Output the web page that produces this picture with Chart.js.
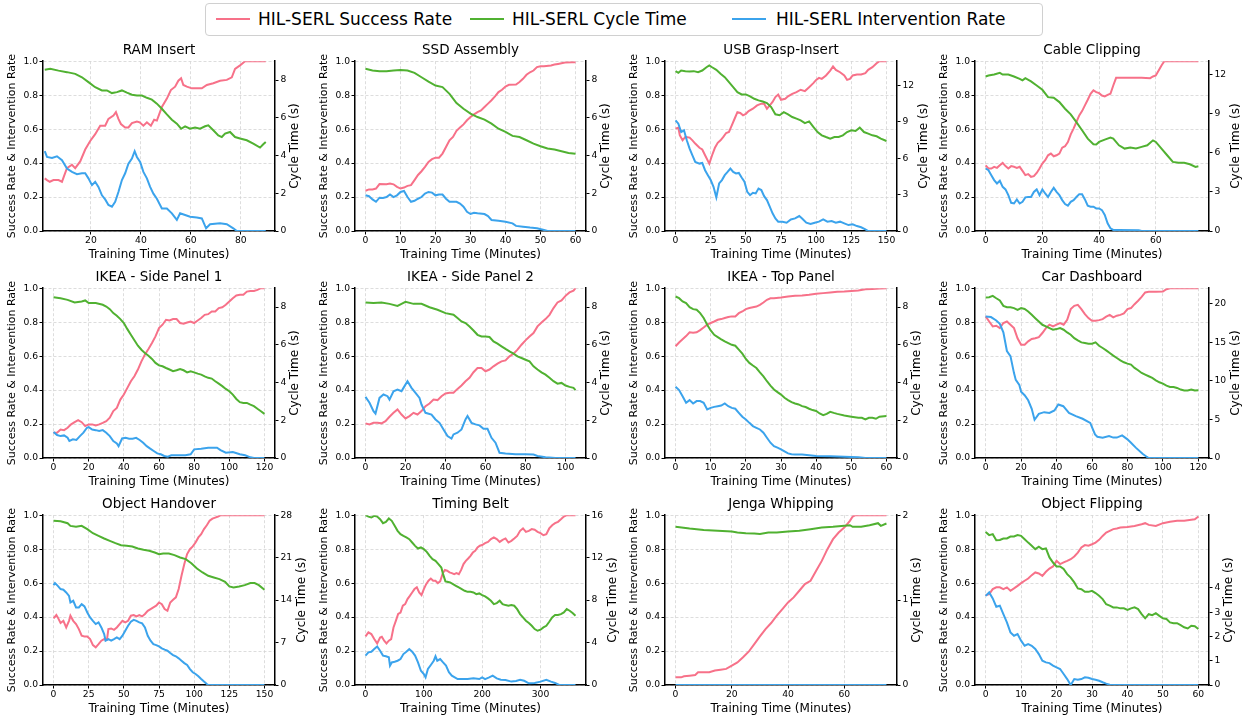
<!DOCTYPE html>
<html><head><meta charset="utf-8">
<script src="https://cdn.jsdelivr.net/npm/chart.js@4.4.1/dist/chart.umd.min.js"></script>
<style>
html,body{margin:0;padding:0;background:#fff;width:1247px;height:718px;overflow:hidden;position:relative;font-family:"DejaVu Sans",sans-serif;}
#legend{position:absolute;left:205px;top:3px;width:838px;height:33px;border:1px solid #d0d0d0;border-radius:4px;box-sizing:border-box;}
.ln{position:absolute;top:14px;width:34px;height:2px;}
.lt{position:absolute;top:4px;font-size:17px;line-height:22px;color:#000;white-space:nowrap;}
</style></head><body>
<div id="legend">
<span class="ln" style="left:10px;background:#f77189"></span><span class="lt" style="left:52px">HIL-SERL Success Rate</span>
<span class="ln" style="left:264px;background:#50b131"></span><span class="lt" style="left:306px">HIL-SERL Cycle Time</span>
<span class="ln" style="left:526px;background:#3ba3ec"></span><span class="lt" style="left:570px">HIL-SERL Intervention Rate</span>
</div>
<script>
// ---------- data ([minute, value]) ----------
const panelTitles = ['RAM Insert','SSD Assembly','USB Grasp-Insert','Cable Clipping','IKEA - Side Panel 1','IKEA - Side Panel 2','IKEA - Top Panel','Car Dashboard','Object Handover','Timing Belt','Jenga Whipping','Object Flipping'];

const ramSuccess = [[1.5,0.31],[2.4,0.30],[3.5,0.29],[5,0.30],[7,0.30],[8.4,0.29],[9.4,0.33],[10.4,0.37],[12.4,0.39],[13.7,0.37],[15.7,0.41],[17.7,0.48],[19.7,0.53],[21.7,0.57],[23.7,0.62],[25.7,0.62],[27,0.66],[29,0.68],[30,0.70],[31,0.66],[32,0.63],[33.7,0.61],[35,0.61],[36.4,0.635],[38.4,0.645],[39.5,0.64],[41,0.62],[42.4,0.64],[44,0.62],[45.3,0.655],[46.4,0.65],[48.4,0.73],[50.4,0.78],[52,0.83],[53.7,0.85],[55,0.885],[56.1,0.90],[57,0.86],[58.4,0.85],[60.4,0.84],[62.4,0.84],[64.4,0.84],[66.4,0.86],[69,0.87],[71.7,0.885],[74.4,0.89],[76.4,0.905],[77.7,0.955],[79.7,0.975],[81.7,1.0],[90,1.0]];
const ramCycle = [[1.5,8.55],[3.7,8.6],[7,8.5],[10.4,8.42],[13.7,8.33],[16.4,8.15],[19,7.89],[21.7,7.62],[24.4,7.45],[26.4,7.45],[28.4,7.31],[30.4,7.36],[32.4,7.45],[34.4,7.33],[36.4,7.22],[38.4,7.18],[40.4,7.18],[42.4,7.06],[44.4,6.96],[46.4,6.75],[48.4,6.48],[50.4,6.18],[52.4,5.9],[54.4,5.69],[56.1,5.42],[57.7,5.55],[59.7,5.42],[61.7,5.48],[63.7,5.42],[65.7,5.55],[67,5.6],[69,5.34],[71,5.07],[72.4,4.98],[73.7,5.16],[75.7,5.25],[77.7,4.98],[79.7,4.9],[82.4,4.81],[85,4.63],[87.7,4.42],[89,4.6],[90,4.72]];
const ramInterv = [[1.5,0.47],[2.4,0.436],[4.4,0.43],[6.4,0.44],[8.4,0.417],[10.4,0.368],[12.4,0.348],[14.4,0.335],[16.4,0.34],[17.7,0.34],[19,0.31],[20.4,0.27],[21.7,0.29],[23,0.26],[24.4,0.21],[25.7,0.186],[27,0.153],[28.4,0.143],[29.7,0.172],[31,0.23],[32.4,0.30],[33.7,0.34],[35,0.397],[36.4,0.427],[37.5,0.47],[38.4,0.436],[39.7,0.407],[41,0.348],[42.4,0.31],[43.7,0.26],[45,0.22],[46.4,0.19],[48.4,0.133],[50.4,0.133],[52.4,0.104],[54.4,0.065],[55.7,0.104],[57.7,0.094],[59.7,0.084],[62.4,0.08],[64.4,0.074],[66.1,0.016],[67.7,0.04],[71.7,0.045],[74.4,0.04],[77,0.016],[78.4,0],[90,0]];

const ssdSuccess = [[0,0.237],[1,0.245],[2,0.245],[3,0.25],[4,0.276],[6,0.275],[7,0.28],[8,0.275],[9,0.26],[10,0.25],[11,0.256],[12,0.266],[13,0.27],[14,0.30],[15,0.33],[16,0.352],[17,0.378],[18,0.407],[19,0.423],[20,0.432],[21,0.432],[22,0.456],[23,0.495],[24,0.534],[25,0.554],[26,0.59],[27,0.609],[28,0.628],[29,0.652],[30,0.671],[31,0.687],[32,0.70],[33,0.71],[34,0.73],[35,0.75],[36,0.77],[37,0.793],[38,0.818],[39,0.832],[40,0.851],[41,0.861],[43,0.863],[44,0.877],[45,0.896],[46,0.92],[47,0.935],[48,0.945],[49,0.965],[50,0.97],[51,0.97],[53,0.975],[54,0.98],[55,0.984],[56,0.988],[57,0.992],[59,0.994],[60,0.994]];
const ssdCycle = [[0,8.6],[2,8.51],[4,8.47],[6,8.47],[8,8.51],[10,8.54],[12,8.51],[14,8.38],[16,8.15],[18,7.92],[20,7.71],[22,7.63],[24,7.27],[26,6.78],[28,6.48],[30,6.22],[32,6.04],[34,5.9],[36,5.69],[38,5.42],[40,5.25],[42,5.04],[44,4.98],[46,4.81],[48,4.63],[50,4.49],[52,4.37],[54,4.32],[56,4.23],[58,4.14],[60,4.1]];
const ssdInterv = [[0,0.211],[1,0.205],[2,0.186],[3,0.172],[4,0.196],[5,0.195],[6,0.2],[7,0.215],[8,0.2],[9,0.21],[10,0.23],[11,0.236],[12,0.2],[13,0.172],[14,0.178],[15,0.19],[16,0.2],[17,0.22],[18,0.23],[19,0.226],[20,0.21],[21,0.215],[22,0.215],[23,0.19],[24,0.172],[26,0.172],[27,0.162],[28,0.143],[29,0.113],[30,0.1],[31,0.107],[32,0.104],[34,0.1],[35,0.088],[36,0.065],[38,0.06],[40,0.055],[42,0.045],[43,0.03],[45,0.025],[47,0.02],[49,0.016],[51,0.006],[52,0],[60,0]];

const usbSuccess = [[0,0.603],[2,0.609],[3,0.564],[5,0.534],[7,0.554],[10,0.55],[12,0.534],[14,0.515],[17,0.49],[19,0.48],[21,0.446],[23,0.413],[24,0.397],[26,0.446],[28,0.49],[30,0.519],[32,0.534],[34,0.554],[36,0.577],[38,0.583],[40,0.622],[42,0.661],[44,0.70],[46,0.695],[48,0.681],[50,0.69],[52,0.706],[55,0.72],[58,0.74],[61,0.75],[63,0.75],[65,0.72],[67,0.74],[69,0.76],[71,0.789],[73,0.804],[75,0.773],[78,0.779],[80,0.793],[83,0.808],[86,0.818],[89,0.832],[92,0.824],[95,0.847],[98,0.871],[100,0.89],[102,0.902],[104,0.896],[107,0.916],[110,0.945],[112,0.969],[114,0.949],[117,0.935],[120,0.916],[122,0.89],[124,0.896],[126,0.916],[129,0.922],[132,0.922],[135,0.93],[137,0.949],[140,0.965],[143,0.988],[145,1.0],[150,1.0]];
const usbCycle = [[0,13.18],[2,13.04],[4,13.23],[7,13.18],[10,13.15],[13,13.18],[16,13.1],[19,13.23],[22,13.5],[24,13.65],[26,13.5],[29,13.29],[32,12.96],[35,12.68],[38,12.27],[41,11.86],[44,11.45],[47,11.26],[50,11.26],[53,11.1],[56,10.9],[59,10.77],[62,10.68],[65,10.55],[68,10.22],[71,9.62],[74,9.54],[77,9.8],[80,9.62],[83,9.4],[86,9.26],[89,9.12],[92,8.9],[95,9.04],[98,8.58],[101,8.16],[104,7.89],[107,7.75],[110,7.62],[113,7.75],[116,7.75],[119,7.89],[122,8.16],[125,8.3],[128,8.25],[131,8.52],[134,8.16],[137,8.03],[140,7.89],[143,7.81],[146,7.62],[150,7.42]];
const usbInterv = [[0,0.652],[2,0.632],[4,0.583],[6,0.593],[8,0.534],[10,0.485],[12,0.446],[14,0.407],[17,0.397],[19,0.401],[21,0.358],[23,0.329],[25,0.3],[27,0.26],[29,0.198],[31,0.28],[33,0.3],[35,0.329],[37,0.348],[39,0.368],[41,0.348],[43,0.339],[45,0.342],[47,0.315],[49,0.29],[51,0.231],[53,0.211],[55,0.225],[57,0.221],[59,0.25],[61,0.241],[63,0.205],[65,0.182],[67,0.143],[69,0.104],[71,0.074],[73,0.055],[76,0.055],[79,0.049],[82,0.068],[85,0.074],[88,0.088],[90,0.074],[93,0.049],[96,0.041],[99,0.049],[102,0.055],[105,0.068],[108,0.055],[111,0.059],[114,0.049],[117,0.055],[120,0.045],[123,0.035],[126,0.039],[129,0.029],[132,0.022],[135,0.01],[137,0],[150,0]];

const cableSuccess = [[0,0.387],[1,0.368],[2,0.368],[3,0.378],[4,0.372],[5,0.387],[6,0.401],[7,0.382],[8,0.368],[9,0.382],[10,0.378],[11,0.372],[12,0.378],[13,0.354],[14,0.329],[15,0.335],[16,0.319],[17,0.323],[18,0.342],[19,0.368],[20,0.397],[21,0.417],[22,0.446],[23,0.456],[24,0.44],[25,0.446],[26,0.456],[27,0.491],[28,0.499],[29,0.524],[30,0.569],[31,0.603],[32,0.642],[33,0.681],[34,0.706],[35,0.74],[36,0.773],[37,0.808],[38,0.828],[39,0.818],[40,0.812],[41,0.798],[42,0.793],[43,0.802],[44,0.808],[45,0.857],[46,0.902],[50,0.902],[55,0.902],[58,0.9],[59,0.91],[60,0.916],[61,0.945],[62,0.975],[63,1.0],[75,1.0]];
const cableCycle = [[0,11.83],[1,11.91],[3,11.98],[5,12.11],[6,11.98],[8,11.98],[10,11.83],[12,11.65],[13,11.53],[14,11.7],[16,11.45],[18,11.14],[20,10.81],[22,10.25],[24,10.2],[26,9.87],[28,9.36],[30,8.93],[32,8.34],[34,7.71],[36,7.07],[38,6.64],[39,6.62],[40,6.82],[42,7.0],[44,7.15],[45,7.07],[47,6.56],[49,6.31],[51,6.39],[53,6.31],[55,6.44],[57,6.56],[59,6.94],[60,6.82],[62,6.31],[64,5.8],[66,5.29],[68,5.22],[70,5.22],[72,5.11],[74,4.91],[75,4.96]];
const cableInterv = [[0,0.368],[1,0.358],[2,0.329],[3,0.3],[4,0.28],[5,0.296],[6,0.26],[7,0.245],[8,0.211],[9,0.166],[10,0.162],[11,0.186],[12,0.162],[13,0.172],[14,0.198],[15,0.2],[16,0.2],[17,0.23],[18,0.245],[19,0.211],[20,0.245],[21,0.221],[22,0.2],[23,0.23],[24,0.254],[25,0.23],[26,0.211],[27,0.182],[28,0.159],[29,0.149],[30,0.172],[31,0.182],[32,0.2],[33,0.217],[34,0.217],[35,0.186],[36,0.149],[37,0.143],[38,0.143],[39,0.133],[40,0.133],[41,0.123],[42,0.094],[43,0.045],[44,0.016],[45,0.006],[47,0.006],[54,0.004],[55,0],[75,0]];

const side1Success = [[0,0.149],[2,0.149],[4,0.168],[6,0.164],[8,0.178],[10,0.198],[12,0.211],[14,0.223],[16,0.211],[18,0.188],[20,0.198],[22,0.198],[24,0.192],[26,0.198],[28,0.207],[30,0.217],[32,0.237],[34,0.276],[36,0.295],[38,0.344],[40,0.374],[42,0.413],[44,0.452],[46,0.481],[48,0.521],[50,0.569],[52,0.609],[54,0.642],[56,0.677],[58,0.716],[60,0.765],[62,0.785],[64,0.814],[66,0.81],[68,0.818],[70,0.818],[72,0.795],[74,0.791],[76,0.798],[78,0.804],[80,0.795],[82,0.81],[84,0.824],[86,0.843],[88,0.847],[90,0.863],[92,0.863],[94,0.883],[96,0.888],[98,0.902],[100,0.922],[102,0.941],[104,0.957],[106,0.961],[108,0.961],[110,0.98],[112,0.984],[114,0.984],[116,0.99],[118,1.0],[120,1.0]];
const side1Cycle = [[0,8.52],[4,8.47],[8,8.38],[12,8.24],[16,8.3],[18,8.35],[20,8.21],[24,8.21],[28,8.12],[30,8.03],[32,7.89],[34,7.68],[36,7.54],[38,7.36],[40,7.15],[42,6.83],[44,6.53],[46,6.24],[48,5.95],[50,5.74],[52,5.56],[54,5.42],[56,5.25],[58,5.04],[60,4.91],[62,4.86],[64,4.77],[66,4.69],[68,4.6],[70,4.65],[72,4.72],[74,4.65],[76,4.54],[78,4.6],[80,4.54],[82,4.47],[84,4.42],[86,4.33],[88,4.25],[90,4.21],[92,4.07],[94,3.94],[96,3.81],[98,3.66],[100,3.54],[102,3.36],[104,3.13],[106,2.96],[108,2.92],[110,2.92],[112,2.83],[114,2.75],[116,2.61],[118,2.48],[120,2.34]];
const side1Interv = [[0,0.153],[2,0.135],[4,0.129],[6,0.133],[8,0.119],[9,0.1],[11,0.11],[13,0.106],[15,0.129],[17,0.149],[19,0.178],[20,0.182],[22,0.168],[24,0.164],[26,0.159],[28,0.164],[30,0.149],[32,0.129],[34,0.1],[36,0.086],[37,0.07],[39,0.115],[41,0.119],[43,0.114],[45,0.114],[47,0.119],[49,0.106],[51,0.09],[53,0.07],[55,0.055],[57,0.041],[59,0.027],[61,0.022],[63,0.012],[65,0.008],[67,0.016],[70,0.016],[75,0.016],[78,0.022],[80,0.051],[84,0.055],[88,0.061],[93,0.061],[95,0.047],[98,0.031],[102,0.035],[106,0.022],[109,0.016],[112,0.004],[114,0],[120,0]];

const side2Success = [[0,0.204],[2,0.198],[4,0.207],[6,0.207],[8,0.204],[10,0.217],[12,0.243],[14,0.266],[16,0.286],[18,0.256],[20,0.233],[22,0.247],[24,0.266],[26,0.256],[28,0.276],[30,0.305],[32,0.321],[34,0.344],[36,0.341],[38,0.364],[40,0.38],[42,0.384],[44,0.384],[46,0.407],[48,0.427],[50,0.452],[52,0.472],[54,0.505],[56,0.53],[58,0.53],[60,0.511],[62,0.521],[64,0.54],[66,0.556],[68,0.569],[70,0.575],[72,0.599],[74,0.614],[76,0.638],[78,0.667],[80,0.693],[82,0.716],[84,0.736],[86,0.775],[88,0.798],[90,0.818],[92,0.843],[94,0.883],[96,0.916],[98,0.928],[100,0.955],[102,0.975],[104,0.986],[105,1.0]];
const side2Cycle = [[0,8.24],[4,8.21],[8,8.24],[12,8.17],[16,8.06],[18,8.17],[20,8.28],[24,8.17],[28,8.17],[32,7.99],[36,7.86],[40,7.68],[44,7.59],[46,7.42],[48,7.24],[50,7.15],[52,6.97],[54,6.76],[56,6.53],[58,6.44],[60,6.44],[62,6.41],[64,6.18],[66,6.06],[68,5.92],[70,5.78],[72,5.65],[74,5.53],[76,5.39],[78,5.3],[80,5.21],[82,5.12],[84,4.86],[86,4.69],[88,4.54],[90,4.42],[92,4.25],[94,4.07],[96,3.94],[98,3.98],[100,3.84],[102,3.77],[104,3.72],[105,3.6]];
const side2Interv = [[0,0.36],[2,0.325],[4,0.276],[5,0.262],[7,0.354],[9,0.374],[11,0.364],[12,0.344],[14,0.393],[16,0.403],[18,0.393],[19,0.413],[21,0.452],[23,0.413],[25,0.384],[27,0.354],[28,0.315],[30,0.266],[33,0.256],[35,0.227],[37,0.207],[39,0.168],[41,0.129],[43,0.114],[44,0.139],[46,0.149],[48,0.168],[50,0.227],[51,0.247],[53,0.207],[55,0.198],[57,0.192],[59,0.172],[61,0.172],[63,0.119],[65,0.09],[67,0.031],[70,0.027],[75,0.022],[80,0.022],[84,0.02],[86,0.012],[90,0.004],[95,0],[105,0]];

const topSuccess = [[0,0.658],[1,0.68],[2,0.699],[3,0.718],[4,0.74],[5,0.737],[6,0.74],[7,0.753],[8,0.769],[9,0.785],[10,0.795],[11,0.804],[12,0.814],[13,0.818],[14,0.824],[15,0.83],[16,0.834],[17,0.834],[18,0.853],[19,0.863],[20,0.877],[21,0.883],[22,0.888],[23,0.892],[24,0.902],[25,0.916],[26,0.932],[27,0.941],[28,0.941],[30,0.945],[32,0.951],[34,0.955],[36,0.957],[38,0.961],[40,0.967],[42,0.971],[44,0.975],[46,0.979],[48,0.98],[50,0.984],[52,0.986],[54,0.994],[56,0.996],[58,0.998],[60,1.0]];
const topCycle = [[0,8.56],[1,8.47],[2,8.3],[3,8.21],[4,7.99],[5,7.89],[6,7.86],[7,7.68],[8,7.42],[9,7.06],[10,6.76],[11,6.53],[12,6.41],[13,6.29],[14,6.18],[15,6.09],[16,6.0],[17,5.95],[18,5.74],[19,5.53],[20,5.25],[21,5.04],[22,4.9],[23,4.77],[24,4.54],[25,4.33],[26,4.07],[27,3.84],[28,3.63],[29,3.49],[30,3.36],[31,3.19],[32,3.07],[33,2.96],[34,2.89],[35,2.84],[36,2.75],[37,2.7],[38,2.61],[39,2.54],[40,2.49],[41,2.36],[42,2.27],[43,2.34],[44,2.45],[45,2.39],[46,2.34],[48,2.25],[50,2.19],[52,2.13],[53,2.13],[54,2.04],[55,2.13],[56,2.13],[57,2.08],[58,2.19],[60,2.22]];
const topInterv = [[0,0.419],[1,0.4],[2,0.364],[3,0.325],[4,0.341],[5,0.321],[6,0.335],[7,0.335],[8,0.325],[9,0.286],[10,0.295],[11,0.301],[12,0.305],[13,0.309],[14,0.321],[15,0.305],[16,0.295],[17,0.29],[18,0.266],[19,0.243],[20,0.227],[21,0.207],[22,0.188],[23,0.178],[24,0.168],[25,0.149],[26,0.119],[27,0.09],[28,0.07],[29,0.061],[30,0.051],[31,0.039],[32,0.027],[33,0.022],[34,0.02],[36,0.02],[38,0.016],[40,0.012],[44,0.01],[48,0.008],[52,0.004],[54,0],[60,0]];

const carSuccess = [[0,0.834],[2,0.804],[4,0.775],[6,0.779],[8,0.765],[10,0.795],[12,0.804],[14,0.785],[16,0.765],[18,0.705],[20,0.667],[22,0.667],[24,0.687],[26,0.701],[28,0.705],[30,0.712],[32,0.736],[34,0.765],[36,0.785],[38,0.775],[40,0.785],[42,0.795],[44,0.785],[46,0.814],[48,0.877],[50,0.896],[52,0.902],[54,0.877],[56,0.847],[58,0.824],[60,0.808],[62,0.808],[64,0.812],[66,0.818],[68,0.832],[70,0.843],[72,0.828],[74,0.838],[76,0.843],[78,0.851],[80,0.877],[82,0.883],[84,0.906],[86,0.926],[88,0.949],[90,0.975],[92,0.979],[96,0.979],[100,0.98],[102,0.994],[104,1.0],[120,1.0]];
const carCycle = [[0,20.8],[2,20.83],[4,21.0],[6,20.7],[8,20.42],[10,19.71],[12,19.54],[14,19.54],[16,19.42],[18,19.2],[20,19.42],[22,19.3],[24,18.99],[26,18.55],[28,18.12],[30,17.69],[32,17.26],[34,17.05],[36,16.83],[38,16.62],[40,16.7],[42,16.83],[44,16.62],[46,16.27],[48,15.97],[50,15.52],[52,15.24],[54,14.98],[56,14.9],[58,14.81],[60,14.81],[62,14.98],[64,14.54],[66,14.25],[68,13.95],[70,13.6],[72,13.26],[74,12.96],[76,12.66],[78,12.4],[80,12.23],[82,12.1],[84,11.67],[86,11.37],[88,11.02],[90,10.8],[92,10.59],[94,10.37],[96,10.07],[98,9.81],[100,9.64],[102,9.38],[104,9.21],[106,9.21],[108,9.08],[110,8.87],[112,8.74],[114,8.74],[116,8.87],[118,8.74],[120,8.78]];
const carInterv = [[0,0.834],[3,0.83],[6,0.81],[8,0.79],[10,0.74],[12,0.63],[14,0.6],[16,0.5],[17,0.46],[19,0.43],[20,0.39],[22,0.37],[24,0.34],[26,0.29],[27.6,0.225],[30,0.26],[33,0.27],[36,0.265],[38.8,0.28],[41,0.315],[43.8,0.305],[47,0.266],[50.9,0.247],[54.7,0.231],[59,0.207],[61.7,0.139],[63,0.125],[66,0.12],[69.6,0.129],[72,0.12],[74,0.12],[77,0.133],[80,0.11],[82,0.09],[84.7,0.061],[88.5,0.025],[91,0.006],[92,0],[120,0]];

const handSuccess = [[0,0.392],[2,0.412],[3,0.398],[5,0.365],[7,0.378],[9,0.339],[11,0.378],[12,0.408],[14,0.378],[16,0.359],[18,0.329],[20,0.29],[22,0.286],[24,0.286],[26,0.27],[28,0.235],[30,0.222],[32,0.241],[34,0.261],[36,0.27],[38,0.267],[39,0.329],[41,0.333],[43,0.325],[45,0.339],[47,0.359],[49,0.378],[51,0.369],[53,0.378],[55,0.408],[57,0.412],[59,0.404],[61,0.412],[63,0.404],[65,0.418],[67,0.437],[69,0.447],[71,0.457],[73,0.467],[75,0.486],[77,0.476],[79,0.447],[81,0.437],[83,0.486],[85,0.502],[87,0.516],[89,0.565],[91,0.643],[93,0.712],[95,0.771],[97,0.8],[99,0.816],[101,0.839],[103,0.869],[105,0.888],[107,0.918],[109,0.941],[111,0.967],[113,0.98],[115,0.986],[117,0.992],[119,1.0],[150,1.0]];
const handCycle = [[0,27.07],[5,27.01],[10,26.68],[12,26.24],[16,26.08],[20,26.24],[24,25.69],[28,25.03],[32,24.6],[36,24.16],[40,23.77],[44,23.39],[48,23.06],[52,22.95],[56,22.84],[60,22.51],[64,22.29],[68,22.13],[72,21.85],[75,21.58],[78,21.69],[82,21.69],[86,21.41],[90,21.03],[94,20.75],[98,20.09],[102,19.22],[106,18.56],[110,18.01],[114,17.73],[118,17.46],[122,17.02],[125,16.25],[128,16.09],[132,16.25],[136,16.47],[140,16.8],[143,16.8],[146,16.47],[150,15.7]];
const handInterv = [[0,0.588],[1,0.6],[3,0.584],[5,0.565],[7,0.561],[9,0.545],[11,0.525],[12,0.486],[14,0.496],[16,0.457],[18,0.457],[20,0.476],[22,0.463],[24,0.427],[26,0.398],[28,0.378],[30,0.359],[32,0.369],[34,0.339],[36,0.3],[37,0.261],[39,0.27],[41,0.261],[43,0.27],[45,0.28],[47,0.27],[49,0.29],[51,0.32],[53,0.349],[55,0.373],[57,0.384],[59,0.378],[61,0.369],[63,0.363],[65,0.339],[67,0.29],[69,0.261],[71,0.241],[73,0.235],[75,0.227],[77,0.216],[79,0.208],[81,0.202],[83,0.188],[85,0.176],[87,0.169],[89,0.157],[91,0.143],[93,0.129],[95,0.118],[97,0.094],[99,0.075],[101,0.065],[103,0.051],[105,0.035],[107,0.02],[109,0.006],[110,0],[150,0]];

const beltSuccess = [[0,0.286],[5,0.31],[10,0.3],[15,0.271],[20,0.245],[25,0.28],[28,0.284],[32,0.261],[36,0.245],[40,0.261],[44,0.27],[48,0.339],[52,0.378],[56,0.418],[60,0.427],[64,0.467],[68,0.476],[72,0.506],[76,0.525],[80,0.545],[84,0.565],[88,0.575],[92,0.545],[96,0.529],[100,0.565],[104,0.594],[108,0.614],[112,0.627],[116,0.614],[120,0.614],[124,0.6],[128,0.61],[132,0.653],[136,0.678],[140,0.673],[144,0.663],[148,0.659],[152,0.653],[156,0.659],[160,0.653],[164,0.678],[168,0.712],[172,0.731],[176,0.745],[180,0.761],[184,0.78],[188,0.79],[192,0.81],[196,0.82],[200,0.824],[205,0.835],[210,0.843],[215,0.859],[220,0.869],[225,0.859],[230,0.843],[235,0.855],[240,0.863],[245,0.839],[250,0.849],[255,0.863],[260,0.878],[265,0.908],[270,0.922],[275,0.902],[280,0.908],[285,0.918],[290,0.914],[295,0.902],[300,0.894],[305,0.882],[310,0.888],[315,0.922],[320,0.941],[325,0.953],[330,0.961],[335,0.976],[340,0.992],[345,1.0],[360,1.0]];
const beltCycle = [[0,16.0],[5,15.87],[10,15.78],[15,15.94],[20,15.87],[25,15.62],[30,15.25],[35,15.37],[40,15.69],[45,15.47],[50,15.0],[55,14.53],[60,14.21],[65,14.05],[70,13.9],[75,13.74],[80,13.43],[85,13.11],[90,12.86],[95,12.96],[100,12.8],[105,12.55],[110,12.17],[115,11.86],[120,11.7],[125,11.39],[130,11.07],[133,10.45],[137,9.76],[140,9.73],[145,9.66],[150,9.51],[155,9.35],[160,9.19],[165,9.04],[170,8.88],[175,8.78],[180,8.78],[185,8.72],[190,8.56],[195,8.63],[200,8.47],[205,8.35],[210,8.16],[215,7.94],[220,7.62],[225,7.72],[230,7.94],[235,7.62],[240,7.53],[245,7.47],[250,7.53],[255,7.47],[260,7.15],[265,6.68],[270,6.37],[275,6.06],[280,5.84],[285,5.58],[290,5.27],[295,5.11],[300,5.21],[305,5.43],[310,5.58],[315,5.96],[320,6.37],[325,6.59],[330,6.59],[335,6.68],[340,6.84],[345,7.15],[350,7.0],[355,6.78],[360,6.53]];
const beltInterv = [[0,0.173],[5,0.192],[10,0.196],[15,0.212],[20,0.227],[25,0.202],[30,0.173],[35,0.169],[40,0.163],[42,0.114],[45,0.133],[50,0.137],[55,0.143],[60,0.153],[65,0.182],[70,0.196],[75,0.212],[80,0.196],[85,0.173],[90,0.133],[95,0.084],[100,0.065],[103,0.045],[107,0.094],[112,0.118],[117,0.143],[120,0.169],[123,0.143],[128,0.153],[133,0.133],[138,0.114],[143,0.075],[148,0.055],[153,0.045],[158,0.035],[165,0.035],[175,0.035],[185,0.039],[195,0.035],[200,0.045],[205,0.035],[212,0.045],[218,0.055],[225,0.039],[232,0.031],[240,0.029],[250,0.02],[258,0.024],[265,0.031],[272,0.025],[280,0.01],[290,0.012],[300,0.02],[310,0.031],[318,0.02],[325,0.012],[332,0],[360,0]];

const jengaSuccess = [[0,0.045],[2,0.045],[3,0.051],[5,0.055],[7,0.059],[8,0.075],[10,0.075],[12,0.075],[14,0.085],[16,0.09],[18,0.095],[20,0.114],[22,0.133],[24,0.163],[26,0.196],[28,0.241],[30,0.286],[32,0.329],[34,0.365],[36,0.408],[38,0.447],[40,0.486],[42,0.516],[44,0.555],[46,0.594],[48,0.614],[50,0.673],[52,0.731],[54,0.8],[56,0.859],[58,0.898],[60,0.927],[62,0.967],[63,0.992],[64,1.0],[75,1.0]];
const jengaCycle = [[0,1.863],[5,1.843],[10,1.827],[15,1.816],[20,1.808],[22,1.796],[25,1.788],[28,1.784],[30,1.78],[33,1.796],[36,1.796],[40,1.808],[44,1.816],[48,1.835],[52,1.855],[56,1.863],[60,1.875],[62,1.882],[63,1.863],[66,1.863],[69,1.882],[72,1.906],[73,1.875],[75,1.902]];
const jengaInterv = [[0,0],[75,0]];

const flipSuccess = [[0,0.529],[1,0.535],[2,0.565],[3,0.575],[4,0.575],[5,0.565],[6,0.575],[7,0.555],[8,0.569],[9,0.584],[10,0.6],[11,0.614],[12,0.627],[13,0.647],[14,0.663],[15,0.657],[16,0.643],[17,0.667],[18,0.686],[19,0.698],[20,0.731],[21,0.712],[22,0.722],[23,0.731],[24,0.741],[25,0.757],[26,0.78],[27,0.81],[28,0.824],[29,0.82],[30,0.829],[31,0.839],[32,0.855],[33,0.878],[34,0.898],[35,0.908],[36,0.918],[37,0.922],[38,0.927],[40,0.931],[42,0.937],[44,0.947],[45,0.953],[46,0.943],[48,0.937],[50,0.953],[52,0.961],[54,0.967],[56,0.967],[58,0.973],[59,0.976],[60,0.992]];
const flipCycle = [[0,6.31],[1,6.18],[2,6.22],[3,5.97],[4,5.98],[5,6.04],[6,6.04],[7,6.12],[8,6.12],[9,6.18],[10,6.15],[11,6.01],[12,5.87],[13,5.74],[14,5.6],[15,5.7],[16,5.6],[17,5.63],[18,5.26],[19,5.05],[20,4.89],[21,4.89],[22,4.78],[23,4.57],[24,4.43],[25,4.23],[26,3.98],[27,3.95],[28,3.84],[29,3.84],[30,3.88],[31,3.79],[32,3.68],[33,3.54],[34,3.33],[35,3.27],[36,3.2],[37,3.2],[38,3.16],[39,3.16],[40,3.1],[41,3.16],[42,3.2],[43,3.13],[44,2.92],[45,2.75],[46,2.92],[47,2.88],[48,2.96],[49,2.85],[50,2.75],[51,2.72],[52,2.58],[53,2.55],[54,2.55],[55,2.47],[56,2.38],[57,2.33],[58,2.44],[59,2.42],[60,2.31]];
const flipInterv = [[0,0.525],[1,0.545],[2,0.51],[3,0.461],[4,0.467],[5,0.418],[6,0.369],[7,0.31],[8,0.29],[9,0.3],[10,0.261],[11,0.231],[12,0.241],[13,0.231],[14,0.212],[15,0.182],[16,0.143],[17,0.133],[18,0.129],[19,0.114],[20,0.104],[21,0.094],[22,0.065],[23,0.035],[24,0],[25,0.035],[26,0.031],[27,0.035],[28,0.045],[29,0.043],[30,0.035],[31,0.031],[32,0.025],[33,0.016],[34,0.008],[35,0.002],[37,0],[60,0]];

// axis settings per panel
const xMin = [0.8,-3,-7.5,-3.75,-6,-5.25,-3,-6,-7.5,-18,-3.75,-3];
const xMax = [93.7,63,157.5,78.75,126,110.25,63,126,157.5,378,78.75,63];
const xStep = [20,10,25,20,20,20,10,20,25,100,20,10];
const cycleMax = [9,9,14,13,9,9,9,22,28,16,2,7];
const cycleStep = [2,2,3,3,2,2,2,5,7,4,1,1];
const cycleTickTop = [8,8,12,12,8,8,8,20,28,16,2,4];

const successSeries = [ramSuccess,ssdSuccess,usbSuccess,cableSuccess,side1Success,side2Success,topSuccess,carSuccess,handSuccess,beltSuccess,jengaSuccess,flipSuccess];
const cycleSeries = [ramCycle,ssdCycle,usbCycle,cableCycle,side1Cycle,side2Cycle,topCycle,carCycle,handCycle,beltCycle,jengaCycle,flipCycle];
const intervSeries = [ramInterv,ssdInterv,usbInterv,cableInterv,side1Interv,side2Interv,topInterv,carInterv,handInterv,beltInterv,jengaInterv,flipInterv];

// ---------- layout / style ----------
const RED = '#f77189', GREEN = '#50b131', BLUE = '#3ba3ec';
const colLeft = [43,355,665,975], colWidth = [232,231,232,234];
const rowTop = [61,288,515], plotH = 170;
const FONT = '"DejaVu Sans", sans-serif';
Chart.defaults.font.family = FONT;
Chart.defaults.color = '#000';

const rightTitle = {
  id: 'rightTitle',
  afterDraw(chart, args, opts) {
    const ca = chart.chartArea, ctx = chart.ctx;
    ctx.save();
    ctx.translate(ca.right + opts.offset, (ca.top + ca.bottom) / 2);
    ctx.rotate(-Math.PI / 2);
    ctx.font = '12px ' + FONT;
    ctx.fillStyle = '#000';
    ctx.textAlign = 'center';
    ctx.textBaseline = 'middle';
    ctx.fillText(opts.text, 0, 0);
    ctx.restore();
  }
};

const toXY = arr => arr.map(p => ({x: p[0], y: p[1]}));

panelTitles.forEach((title, i) => {
  const r = Math.floor(i / 4), c = i % 4;
  const w = colWidth[c] + 83, h = 22 + plotH + 32;
  const cv = document.createElement('canvas');
  cv.width = w; cv.height = h;
  cv.style.cssText = `position:absolute;left:${colLeft[c]-43}px;top:${rowTop[r]-22}px;width:${w}px;height:${h}px;`;
  document.body.appendChild(cv);
  const tickTop = cycleTickTop[i];
  const step = xStep[i];
  new Chart(cv, {
    type: 'line',
    data: { datasets: [
      {label:'HIL-SERL Cycle Time', data: toXY(cycleSeries[i]), borderColor: GREEN, yAxisID: 'y2', order: 0},
      {label:'HIL-SERL Intervention Rate', data: toXY(intervSeries[i]), borderColor: BLUE, yAxisID: 'y', order: 1},
      {label:'HIL-SERL Success Rate', data: toXY(successSeries[i]), borderColor: RED, yAxisID: 'y', order: 2}
    ]},
    plugins: [rightTitle],
    options: {
      responsive: false, animation: false, devicePixelRatio: 1,
      layout: { padding: 0 },
      elements: { point: { radius: 0 }, line: { borderWidth: 2, tension: 0, fill: false } },
      plugins: {
        legend: { display: false }, tooltip: { enabled: false },
        title: { display: true, text: title, fullSize: false, font: { size: 13.5, weight: 'normal' }, color: '#000', padding: { top: 3, bottom: 3 } },
        rightTitle: { text: 'Cycle Time (s)', offset: cycleTickTop[i] >= 10 ? 27 : 20 }
      },
      scales: {
        x: {
          type: 'linear', position: 'bottom', min: xMin[i], max: xMax[i],
          afterFit: s => { s.height = 32; },
          afterBuildTicks: s => {
            const t = [];
            for (let v = Math.ceil(s.min / step) * step; v <= s.max + 1e-9; v += step) t.push({ value: v });
            s.ticks = t;
          },
          ticks: { stepSize: step, includeBounds: false, autoSkip: false, maxRotation: 0, font: { size: 9.2 }, color: '#000', padding: 1 },
          grid: { color: '#d4d4d4', lineWidth: 0.8, tickLength: 3.5, tickColor: '#000', tickWidth: 1 },
          border: { display: true, color: '#000', width: 1.5, dash: [3, 2] },
          title: { display: true, text: 'Training Time (Minutes)', font: { size: 12 }, color: '#000', padding: { top: 0, bottom: 1 } }
        },
        y: {
          type: 'linear', position: 'left', min: 0, max: 1,
          afterFit: s => { s.width = 43; },
          ticks: { stepSize: 0.2, font: { size: 9.2 }, color: '#000', padding: 1.5, callback: v => Number(v).toFixed(1) },
          grid: { color: '#d4d4d4', lineWidth: 0.8, tickLength: 3.5, tickColor: '#000', tickWidth: 1 },
          border: { display: true, color: '#000', width: 1.5, dash: [3, 2] },
          title: { display: true, text: 'Success Rate & Intervention Rate', font: { size: 11 }, color: '#000', padding: { top: 5.7, bottom: 0 } }
        },
        y2: {
          type: 'linear', position: 'right', min: 0, max: cycleMax[i],
          afterFit: s => { s.width = 40; },
          afterBuildTicks: s => { s.ticks = s.ticks.filter(t => t.value <= tickTop); },
          ticks: { stepSize: cycleStep[i], includeBounds: false, font: { size: 9.2 }, color: '#000', padding: 2 },
          grid: { drawOnChartArea: false, tickLength: 3.5, tickColor: '#000', tickWidth: 1 },
          border: { display: true, color: '#000', width: 1.5 }
        }
      }
    }
  });
});
</script>
</body></html>
